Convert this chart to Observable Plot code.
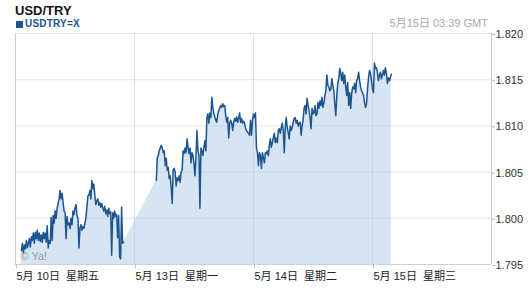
<!DOCTYPE html>
<html>
<head>
<meta charset="utf-8">
<script src="https://cdn.jsdelivr.net/npm/d3@7"></script>
<script src="https://cdn.jsdelivr.net/npm/@observablehq/plot@0.6"></script>
<style>
  html, body { margin: 0; padding: 0; background: #fff; }
  body { width: 530px; height: 289px; overflow: hidden; font-family: "Liberation Sans", Arial, "Noto Sans CJK SC", sans-serif; }
  #head { position: relative; height: 28px; }
  #head span { position: absolute; line-height: 1; white-space: nowrap; }
  #title { left: 15px; top: 4px; font-size: 13px; font-weight: bold; color: #111; }
  #sq { left: 16px; top: 21px; width: 7px; height: 7px; background: #1c5590; }
  #sym { left: 25px; top: 19px; font-size: 10px; font-weight: bold; color: #1c5590; letter-spacing: 0.2px; }
  #stamp { right: 42px; top: 18px; font-size: 11px; color: #a8a8a8; }
  #chart svg { display: block; }
</style>
</head>
<body>
<div id="head">
  <span id="title">USD/TRY</span>
  <span id="sq"></span>
  <span id="sym">USDTRY=X</span>
  <span id="stamp">5月15日 03:39 GMT</span>
</div>
<div id="chart"></div>
<script>
// Trading-hour axis: 0 = Fri 10 May 00:00 GMT, 24 = Mon 13 May, 48 = Tue 14 May, 72 = Wed 15 May
const dayTicks = [0, 24, 48, 72];
const dayLabels = ["5月 10日  星期五", "5月 13日  星期一", "5月 14日  星期二", "5月 15日  星期三"];
const yTicks = [1.795, 1.800, 1.805, 1.810, 1.815, 1.820];
const stepHours = 0.2; // 12-minute samples

// Friday 10 May, from 01:12 GMT
const friStartHour = 1.2;
const fridayPrices = [
  1.7965,1.7973,1.7963,1.7971,1.7967,1.7976,1.7968,1.7973,1.7978,1.7969,
  1.7980,1.7976,1.7984,1.7973,1.7985,1.7978,1.7987,1.7976,1.7984,1.7975,
  1.7982,1.7974,1.7985,1.7978,1.7984,1.7974,1.7992,1.7968,1.7976,1.7973,
  1.8001,1.7976,1.8003,1.7995,1.8008,1.8000,1.8011,1.8016,1.8021,1.8030,
  1.8021,1.8027,1.8017,1.8008,1.8006,1.7978,1.8002,1.7993,1.7995,1.7989,
  1.8000,1.7993,1.8008,1.8004,1.8011,1.8015,1.8003,1.8000,1.7968,1.7989,
  1.7993,1.7987,1.7991,1.7989,1.7995,1.8000,1.8012,1.8024,1.8025,1.8030,
  1.8021,1.8041,1.8032,1.8037,1.8025,1.8015,1.8019,1.8021,1.8014,1.8017,
  1.8012,1.8016,1.8011,1.8008,1.8013,1.8005,1.8009,1.8002,1.8011,1.8005,
  1.8007,1.7960,1.8006,1.8000,1.8008,1.8002,1.8004,1.7979,1.8003,1.7958,
  1.7956,1.8012,1.7973,1.7974
];

// Monday 13 May 04:24 GMT to Wednesday 15 May
const monStartHour = 28.4;
const monWedPrices = [
  1.8041,1.8066,1.8068,1.8073,1.8076,1.8079,1.8076,1.8071,1.8073,1.8057,
  1.8065,1.8052,1.8055,1.8043,1.8046,1.8033,1.8016,1.8052,1.8054,1.8050,
  1.8035,1.8044,1.8041,1.8046,1.8039,1.8050,1.8052,1.8073,1.8070,1.8076,
  1.8071,1.8086,1.8077,1.8070,1.8076,1.8060,1.8071,1.8068,1.8059,1.8046,
  1.8066,1.8095,1.8073,1.8068,1.8011,1.8076,1.8073,1.8068,1.8077,1.8084,
  1.8073,1.8109,1.8113,1.8103,1.8114,1.8109,1.8131,1.8120,1.8113,1.8110,
  1.8106,1.8104,1.8113,1.8117,1.8119,1.8122,1.8120,1.8124,1.8121,1.8122,
  1.8111,1.8104,1.8109,1.8087,1.8103,1.8106,1.8103,1.8095,1.8104,1.8108,
  1.8105,1.8110,1.8104,1.8108,1.8114,1.8104,1.8108,1.8103,1.8105,1.8103,
  1.8097,1.8095,1.8093,1.8092,1.8090,1.8106,1.8090,1.8106,1.8113,1.8109,
  1.8114,1.8076,1.8071,1.8057,1.8071,1.8068,1.8054,1.8071,1.8065,1.8060,
  1.8071,1.8070,1.8073,1.8068,1.8079,1.8086,1.8077,1.8082,1.8087,1.8092,
  1.8082,1.8087,1.8082,1.8095,1.8097,1.8092,1.8098,1.8103,1.8095,1.8071,
  1.8098,1.8109,1.8098,1.8093,1.8086,1.8100,1.8095,1.8098,1.8104,1.8108,
  1.8109,1.8103,1.8106,1.8100,1.8103,1.8104,1.8090,1.8100,1.8106,1.8119,
  1.8122,1.8113,1.8130,1.8122,1.8117,1.8109,1.8097,1.8119,1.8113,1.8114,
  1.8122,1.8111,1.8113,1.8125,1.8119,1.8127,1.8122,1.8131,1.8120,1.8125,
  1.8133,1.8138,1.8155,1.8144,1.8142,1.8138,1.8140,1.8151,1.8144,1.8138,
  1.8124,1.8111,1.8133,1.8146,1.8151,1.8162,1.8157,1.8149,1.8158,1.8146,
  1.8155,1.8142,1.8133,1.8147,1.8122,1.8136,1.8119,1.8135,1.8142,1.8140,
  1.8146,1.8136,1.8149,1.8151,1.8158,1.8149,1.8142,1.8138,1.8136,1.8133,
  1.8125,1.8120,1.8124,1.8140,1.8152,1.8160,1.8157,1.8149,1.8140,1.8136,
  1.8168,1.8162,1.8163,1.8157,1.8149,1.8155,1.8158,1.8151,1.8155,1.8160,
  1.8155,1.8163,1.8157,1.8146,1.8152,1.8149,1.8152,1.8156
];

const series = [
  ...fridayPrices.map((p, i) => ({t: friStartHour + i * stepHours, p, seg: "fri"})),
  ...monWedPrices.map((p, i) => ({t: monStartHour + i * stepHours, p, seg: "mon"}))
];

const font = '"Liberation Sans", Arial, "Noto Sans CJK SC", sans-serif';

const chart = Plot.plot({
  width: 530,
  height: 261,
  marginLeft: 15,
  marginRight: 39,
  marginTop: 5,
  marginBottom: 25,
  style: {fontFamily: font, fontSize: "11px", background: "#fff", overflow: "visible"},
  x: {domain: [0, 96], label: null},
  y: {domain: [1.795, 1.820], label: null},
  marks: [
    Plot.areaY(series, {x: "t", y1: 1.795, y2: "p", fill: "#d6e5f1"}),
    Plot.ruleY(yTicks.slice(1, -1), {stroke: "#b9cde0", strokeOpacity: 0.5}),
    Plot.ruleX(dayTicks.slice(1), {stroke: "#b9cde0", strokeOpacity: 0.6}),
    Plot.ruleY([1.820], {stroke: "#dde2e8"}),
    Plot.ruleX([0], {stroke: "#c9cdd3"}),
    Plot.ruleX([96], {stroke: "#c9ced5"}),
    Plot.ruleY([1.795], {stroke: "#c8d2dc"}),
    Plot.text(["© Ya!"], {frameAnchor: "bottom-left", dx: 5, dy: -5, fill: "#9c9c9c", fontSize: 11, textAnchor: "start"}),
    Plot.line(series, {x: "t", y: "p", z: "seg", stroke: "#1c5590", strokeWidth: 1.5}),
    Plot.axisX({
      ticks: dayTicks,
      tickFormat: d => dayLabels[dayTicks.indexOf(d)],
      textAnchor: "start",
      tickSize: 4,
      tickPadding: 4,
      dx: 1,
      stroke: "#b4bec8",
      fill: "#222",
      fontSize: 11
    }),
    Plot.axisY({
      anchor: "right",
      ticks: yTicks,
      tickFormat: d3.format(".3f"),
      tickSize: 3,
      tickPadding: 1,
      dy: 1,
      stroke: "#b4bcc4",
      fill: "#333",
      fontSize: 11
    })
  ]
});
document.getElementById("chart").appendChild(chart);
</script>
</body>
</html>
